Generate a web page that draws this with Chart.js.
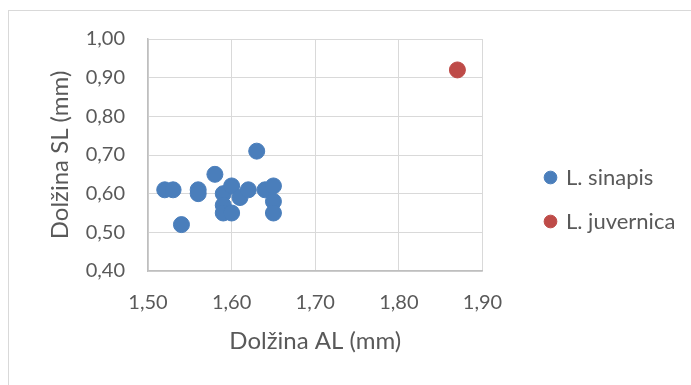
<!DOCTYPE html>
<html><head><meta charset="utf-8">
<style>html,body{margin:0;padding:0;background:#fff;}#wrap{position:absolute;left:0;top:0;width:691px;height:385px;}</style>
<script src="https://cdn.jsdelivr.net/npm/chart.js@4/dist/chart.umd.min.js"></script>
</head><body><div id="wrap"><canvas id="c" width="691" height="385"></canvas></div>
<script>
const seriesNames = ["L. sinapis", "L. juvernica"];
const sinapisAL = [1.52,1.53,1.54,1.56,1.56,1.58,1.59,1.59,1.59,1.60,1.60,1.61,1.62,1.63,1.64,1.65,1.65,1.65];
const sinapisSL = [0.61,0.61,0.52,0.61,0.60,0.65,0.60,0.57,0.55,0.62,0.55,0.59,0.61,0.71,0.61,0.62,0.58,0.55];
const juvernicaAL = [1.87];
const juvernicaSL = [0.92];
const xTicks = [1.5, 1.6, 1.7, 1.8, 1.9];
const yTicks = [0.4, 0.5, 0.6, 0.7, 0.8, 0.9, 1.0];
const xTitle = "Dolžina AL (mm)";
const yTitle = "Dolžina SL (mm)";

const FONT = "Lato, 'Open Sans', sans-serif";
const toPts = (xs, ys) => xs.map((x, i) => ({x: x, y: ys[i]}));
const fmt = v => Number(v).toFixed(2).replace('.', ',');

const frame = {
  id: 'frame',
  beforeDraw(chart) {
    const ctx = chart.ctx;
    ctx.save();
    ctx.strokeStyle = '#d9d9d9';
    ctx.lineWidth = 1;
    ctx.strokeRect(8.5, 10.5, 720, 420);
    ctx.restore();
  }
};
const legendPlace = {
  id: 'legendPlace',
  afterLayout(chart) {
    const lg = chart.legend;
    if (!lg) return;
    lg.left = 524; lg.right = 691; lg.width = 167;
  }
};

new Chart(document.getElementById('c'), {
  type: 'scatter',
  data: {
    datasets: [
      {label: seriesNames[0], data: toPts(sinapisAL, sinapisSL), backgroundColor: '#4a7ebb', borderColor: '#4a7ebb', pointRadius: 8, pointHoverRadius: 8},
      {label: seriesNames[1], data: toPts(juvernicaAL, juvernicaSL), backgroundColor: '#be4b48', borderColor: '#be4b48', pointRadius: 8, pointHoverRadius: 8}
    ]
  },
  options: {
    responsive: false,
    animation: false,
    devicePixelRatio: 1,
    layout: {padding: {left: 40, top: 39, right: 61, bottom: 25}},
    plugins: {
      legend: {
        position: 'right',
        labels: {usePointStyle: true, pointStyle: 'circle', boxWidth: 9, boxHeight: 9, padding: 22, color: '#595959', font: {family: FONT, size: 22}}
      },
      tooltip: {enabled: false}
    },
    scales: {
      x: {
        type: 'linear', min: xTicks[0], max: xTicks[xTicks.length - 1],
        afterBuildTicks: s => { s.ticks = xTicks.map(v => ({value: v})); },
        afterFit: s => { s.height = 89; },
        ticks: {color: '#595959', font: {family: FONT, size: 20}, callback: v => fmt(v), padding: 20},
        grid: {color: '#d9d9d9', lineWidth: 1, drawTicks: false},
        border: {color: '#bfbfbf', width: 1.5},
        title: {display: true, text: xTitle, color: '#595959', font: {family: FONT, size: 24}, padding: {top: 0, bottom: 4}}
      },
      y: {
        type: 'linear', min: yTicks[0], max: yTicks[yTicks.length - 1],
        afterBuildTicks: s => { s.ticks = yTicks.map(v => ({value: v})); },
        afterFit: s => { s.width = 108; },
        ticks: {color: '#595959', font: {family: FONT, size: 20}, callback: v => fmt(v), padding: 23},
        grid: {color: '#d9d9d9', lineWidth: 1, drawTicks: false},
        border: {color: '#bfbfbf', width: 1.5},
        title: {display: true, text: yTitle, color: '#595959', font: {family: FONT, size: 24}, padding: {top: 6, bottom: 0}}
      }
    }
  },
  plugins: [frame, legendPlace]
});
</script></body></html>
